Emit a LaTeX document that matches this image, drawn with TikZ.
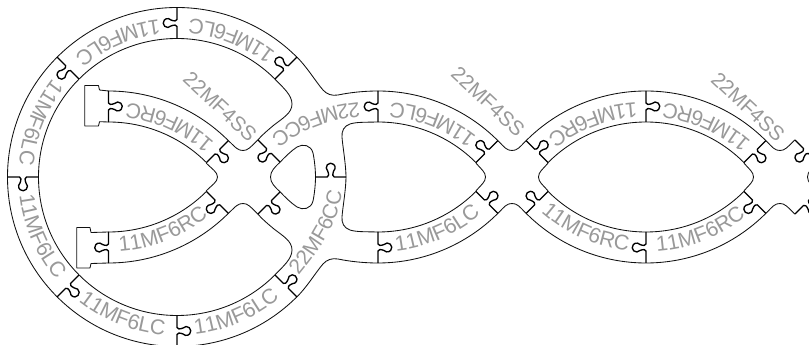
\documentclass[tikz,border=0pt]{standalone}
\usepackage{fontspec}
\setmainfont{Liberation Sans}
\usetikzlibrary{decorations.text,calc}
\definecolor{lgray}{HTML}{999999}
\definecolor{ink}{HTML}{111111}
\tikzset{
  edge/.style={draw=ink,line width=0.85pt,line join=round,line cap=round},
  jointline/.style={draw=black,line width=1.35pt,line join=round},
  lab/.style={text=lgray,font=\fontsize{20.5}{20.5}\selectfont,inner sep=0pt}
}
\newcommand\lf{\fontsize{21.3}{22}\selectfont\color{lgray}}
\newcommand\lfb{\fontsize{21}{21}\selectfont\color{lgray}}
% joint: midpoint, head direction
\newcommand\jointxy[2]{%
  \draw[jointline,shift={(#1)},rotate=#2-90]
    (-15.5,0) -- (-3.5,0) .. controls (-1.6,0) and (-1.8,3) .. (-3,6)
    arc[start angle=228,end angle=-48,radius=4.46]
    .. controls (1.8,3) and (1.6,0) .. (3.5,0) -- (15.5,0);}
\newcommand\jointpol[4]{\jointxy{$(#1,#2)+(#3:154)$}{#3+#4}}
\newcommand\band[4]{%
  \draw[edge] ([shift={(#1,#2)}]#3:169.5) arc[start angle=#3,end angle=#4,radius=169.5];
  \draw[edge] ([shift={(#1,#2)}]#3:138.5) arc[start angle=#3,end angle=#4,radius=138.5];}
\newcommand\arclab[4]{\path[decorate,decoration={text along path,text={|\lf|#4},text align=center}]
  ([shift={(#1,#2)}]#3-28:158.5) arc[start angle=#3-28,end angle=#3+28,radius=158.5];}
\newcommand\halfcurves{%
  % notch curves between bands (px coordinates, upper half)
  \draw[edge] (228.4,140.6) .. controls (236,148) and (238,150.5) .. (243,150.5) .. controls (248,150.5) and (250,147.5) .. (257.9,139.9);
  \draw[edge] (497.9,140.6) .. controls (505,148) and (507,150.5) .. (512,150.5) .. controls (517,150.5) and (519,148) .. (526.1,140.6);
  \draw[edge] (765.9,140.6) .. controls (773,148) and (775,150.5) .. (780,150.5) .. controls (785,150.5) and (787,147.5) .. (794.9,139.9);
  % apexes
  \draw[edge] (206.1,163) .. controls (212,169) and (217.5,172) .. (217.5,177);
  \draw[edge] (475.9,163) .. controls (481,169) and (485.5,172) .. (485.5,177);
  \draw[edge] (548.1,163) .. controls (543,169) and (538.5,172) .. (538.5,177);
  \draw[edge] (743.9,163) .. controls (749,169) and (753.5,172) .. (753.5,177);
  \draw[edge] (817.1,162.1) .. controls (812,168) and (807.5,172) .. (807.5,177);
  % island
  \draw[edge] (280.1,162.1) .. controls (275,167) and (270.5,171) .. (270.5,177);
  \draw[edge] (280.1,162.1) .. controls (285,157) and (291,151) .. (297,147) .. controls (303,143.5) and (311,145) .. (313,153) .. controls (314.5,160) and (315.5,170) .. (315.5,177);
  % big interior, left side
  \draw[edge] (378,122) .. controls (365,122.3) and (356,122) .. (350,124) .. controls (344,126) and (341.5,131) .. (342,137) .. controls (342.5,145) and (346,165) .. (346,177);
  % outer line of the left circle to the middle band
  \draw[edge] (296.9,57.1) .. controls (307,67) and (316,82) .. (323,90) .. controls (327,94.5) and (332,96) .. (338,95) .. controls (350,92.5) and (364,91) .. (378,91);
  % inner line of the left circle to the crossing
  \draw[edge] (274.9,79.1) .. controls (283,87.5) and (292,95) .. (292,104) .. controls (292,113) and (283,118) .. (274,125) .. controls (268,130) and (262,135) .. (257.9,139.9);
}
\begin{document}
\begin{tikzpicture}[x=1pt,y=1pt]
\useasboundingbox (0,0) rectangle (809,345);
\clip (0,0) rectangle (809,345);
% bands
\band{177}{168}{45}{315}
\band{378}{84.5}{45}{90}
\band{378}{251.5}{270}{315}
\band{108.5}{84.5}{45}{90}
\band{108.5}{251.5}{270}{315}
\band{646}{84.5}{45}{135}
\band{646}{251.5}{225}{315}
% free curves, both halves
\begin{scope}[yshift=345pt,yscale=-1]\halfcurves\end{scope}
\begin{scope}[yshift=-9pt]\halfcurves\end{scope}
% end stubs
\begin{scope}[yshift=345pt,yscale=-1]
  \draw[edge] (108.5,91) -- (99.5,90) -- (98.5,85.5) -- (84.7,85.5) -- (84.7,126) -- (98.5,126) -- (99.5,121.7) -- (108.5,122);
  \draw[edge] (108.5,232) -- (91,232.5) -- (90,227.5) -- (76.7,227.5) -- (76.7,268) -- (90,268) -- (91,263.5) -- (108.5,263);
\end{scope}
% joints
\foreach \a in {45,90,135,180,225,270,315}{\jointpol{177}{168}{\a}{90}}
\jointpol{378}{84.5}{90}{90}
\jointpol{378}{84.5}{45}{90}
\jointpol{378}{251.5}{270}{90}
\jointpol{378}{251.5}{315}{90}
\jointpol{108.5}{84.5}{90}{-90}
\jointpol{108.5}{84.5}{45}{-90}
\jointpol{108.5}{251.5}{270}{-90}
\jointpol{108.5}{251.5}{315}{-90}
\jointpol{646}{84.5}{135}{-90}
\jointpol{646}{84.5}{90}{-90}
\jointpol{646}{84.5}{45}{-90}
\jointpol{646}{251.5}{225}{-90}
\jointpol{646}{251.5}{270}{-90}
\jointpol{646}{251.5}{315}{-90}
\jointxy{269,194}{225}
\jointxy{269,142}{315}
\jointxy{806,194}{225}
\jointxy{806,142}{315}
\jointxy{330.7,168}{90}
% labels along the arcs
\foreach \a in {68.5,113.5,158.5,203.5,248.5,293.5}{\arclab{177}{168}{\a}{11MF6LC}}
\arclab{378}{84.5}{68.5}{11MF6LC}
\arclab{378}{251.5}{293.5}{11MF6LC}
\arclab{108.5}{84.5}{65.7}{11MF6RC}
\arclab{108.5}{251.5}{291.5}{11MF6RC}
\arclab{646}{84.5}{66}{11MF6RC}
\arclab{646}{84.5}{111}{11MF6RC}
\arclab{646}{251.5}{246}{11MF6RC}
\arclab{646}{251.5}{291.5}{11MF6RC}
% curved piece labels
\path[decorate,decoration={text along path,text={|\lfb|22MF6CC},text align=center}]
  (366,243.5) .. controls (335,241) and (300,233) .. (265,205);
\path[decorate,decoration={text along path,text={|\lfb|22MF6CC},text align=center}]
  (291,60) .. controls (315,90) and (342,120) .. (343,165);
% straight labels
\node[lab,rotate=-43] (ssa) at (220,238.3) {22MF4SS};
\node[lab,rotate=-43] (ssb) at (488,243.3) {22MF4SS};
\node[lab,rotate=-43] (ssc) at (748,238) {22MF4SS};
\end{tikzpicture}
\end{document}
